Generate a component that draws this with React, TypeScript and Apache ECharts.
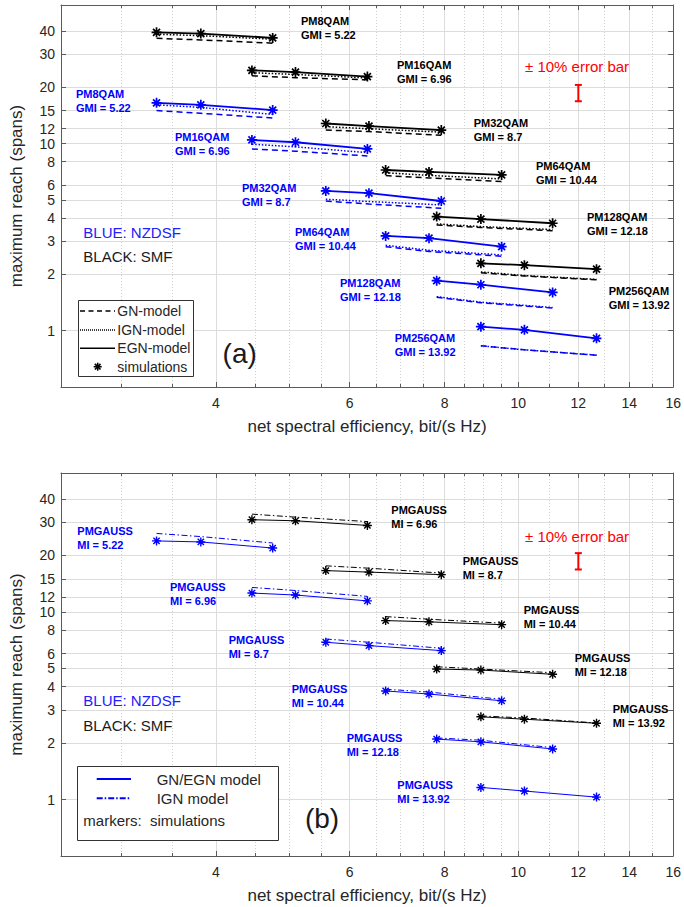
import React, { useEffect, useRef } from 'react';
import * as echarts from 'echarts';

// ---------- axes ----------
const X_RANGE = [2.5, 16];
const Y_RANGE = [0.5, 55];
const X_MAJOR = [4, 6, 8, 10, 12, 14, 16];
const X_MINOR = [3, 3.5, 4.5, 5, 5.5, 6.5, 7, 7.5, 8.5, 9, 9.5, 11, 13, 15];
const Y_MAJOR = [1, 2, 3, 4, 5, 6, 8, 10, 12, 15, 20, 30, 40];

// ---------- categories ----------
const MOD_QAM = ['PM8QAM', 'PM16QAM', 'PM32QAM', 'PM64QAM', 'PM128QAM', 'PM256QAM'];
const GMI = ['5.22', '6.96', '8.7', '10.44', '12.18', '13.92'];

// net spectral efficiency of the 3 points of each format
const SE_8 = [3.34, 3.82, 4.75];
const SE_16 = [4.46, 5.09, 6.33];
const SE_32 = [5.58, 6.36, 7.92];
const SE_64 = [6.69, 7.63, 9.51];
const SE_128 = [7.81, 8.93, 11.1];
const SE_256 = [8.93, 10.19, 12.68];
const SE = [SE_8, SE_16, SE_32, SE_64, SE_128, SE_256];

// ---------- panel (a) : QAM ----------
const SMF_SIM_A = [[39.3, 38.7, 36.7], [24.6, 24.1, 22.8], [12.8, 12.4, 11.8], [7.22, 7.05, 6.8], [4.07, 3.95, 3.75], [2.29, 2.24, 2.13]];
const SMF_GN_A = [[36.5, 35.8, 34.4], [23.0, 22.5, 21.9], [11.8, 11.6, 11.07], [6.74, 6.55, 6.26], [3.67, 3.56, 3.42], [2.04, 1.96, 1.87]];
const SMF_IGN_A = [[38.4, 37.7, 36.1], [23.9, 23.4, 22.4], [12.3, 12.0, 11.5], [6.98, 6.76, 6.47], [3.72, 3.6, 3.47], [2.06, 1.97, 1.88]];
const NZ_SIM_A = [[16.5, 16.1, 15.1], [10.45, 10.16, 9.36], [5.58, 5.43, 4.93], [3.21, 3.12, 2.81], [1.85, 1.76, 1.6], [1.05, 1.01, 0.91]];
const NZ_GN_A = [[15.0, 14.5, 13.7], [9.36, 9.1, 8.58], [4.93, 4.75, 4.51], [2.81, 2.65, 2.5], [1.51, 1.41, 1.32], [0.83, 0.79, 0.74]];
const NZ_IGN_A = [[16.1, 15.6, 14.3], [9.92, 9.6, 8.94], [5.04, 4.9, 4.7], [2.86, 2.69, 2.54], [1.52, 1.42, 1.33], [0.83, 0.79, 0.74]];

// ---------- panel (b) : Gaussian ----------
const SMF_SIM_B = [null, [31.0, 30.6, 28.9], [16.6, 16.3, 15.8], [8.99, 8.85, 8.55], [4.96, 4.9, 4.65], [2.76, 2.68, 2.55]];
const SMF_IGN_B = [null, [33.2, 32.0, 30.3], [17.6, 17.1, 16.1], [9.44, 9.14, 8.71], [5.1, 4.96, 4.74], [2.79, 2.72, 2.56]];
const NZ_SIM_B = [[23.9, 23.6, 21.9], [12.6, 12.3, 11.45], [6.89, 6.61, 6.22], [3.79, 3.65, 3.36], [2.1, 2.03, 1.86], [1.16, 1.11, 1.03]];
const NZ_IGN_B = [[26.2, 25.2, 23.3], [13.5, 13.0, 12.1], [7.17, 6.89, 6.4], [3.87, 3.74, 3.42], [2.13, 2.07, 1.89], null];

// error bar annotation
const ERR_POINT = [12, 18.7];
const ERR_FRAC = 0.1;

// ---------- layout ----------
const FONT = 'Liberation Sans, Arial, Helvetica, sans-serif';
const BLACK = '#000000';
const BLUE = '#0000ff';
const RED = '#ff0000';
const TXT = '#262626';
const BOX = '#5a5a5a';
const STAR = 'path://M0 5L10 5M5 0L5 10M1.5 1.5L8.5 8.5M1.5 8.5L8.5 1.5';

const LBL_A_SMF: number[][] = [[301, 14], [397, 58], [473.7, 116], [536, 159], [587, 210], [608.7, 284]];
const LBL_A_NZ: number[][] = [[76, 87], [175, 130], [242, 180.5], [295, 225], [340, 276], [394.7, 330.5]];
const LBL_B_SMF: (number[] | null)[] = [null, [391.3, 502.5], [462.7, 554], [523.7, 602.5], [574.7, 651], [612.7, 701.5]];
const LBL_B_NZ: number[][] = [[77.3, 524], [170, 579.5], [228.7, 633], [291.7, 682], [346.7, 730.5], [397.3, 778]];

function pts(xs: number[], ys: number[]) {
  return xs.map((x, i) => [x, ys[i]]);
}

function buildAxes(g: number) {
  const fmt = (v: number) => String(+Number(v).toPrecision(4));
  const xBase = { gridIndex: g, type: 'log', logBase: 10, min: X_RANGE[0], max: X_RANGE[1] };
  const yBase = { gridIndex: g, type: 'log', logBase: 10, min: Y_RANGE[0], max: Y_RANGE[1] };
  const xAxes = [
    {
      ...xBase, position: 'bottom',
      axisLine: { show: true, onZero: false, lineStyle: { color: BOX, width: 1 } },
      axisTick: { show: true, inside: true, length: 5, customValues: X_MAJOR, lineStyle: { color: BOX } },
      axisLabel: { show: true, customValues: X_MAJOR, fontSize: 14, lineHeight: 14, color: TXT, margin: 9, fontFamily: FONT, formatter: fmt },
      splitLine: { show: true, lineStyle: { color: '#dcdcdc', width: 1 } },
      name: 'net spectral efficiency, bit/(s Hz)', nameLocation: 'middle', nameGap: 31,
      nameTextStyle: { fontSize: 17, color: TXT, fontFamily: FONT },
    },
    {
      ...xBase, position: 'bottom',
      axisLine: { show: false },
      axisTick: { show: true, inside: true, length: 3, customValues: X_MINOR, lineStyle: { color: BOX } },
      axisLabel: { show: false },
      splitLine: { show: true, lineStyle: { color: '#cfcfcf', width: 1, type: [1, 2] } },
    },
    {
      ...xBase, position: 'top',
      axisLine: { show: true, onZero: false, lineStyle: { color: BOX, width: 1 } },
      axisTick: { show: true, inside: true, length: 5, customValues: X_MAJOR, lineStyle: { color: BOX } },
      axisLabel: { show: false },
      splitLine: { show: false },
    },
    {
      ...xBase, position: 'top',
      axisLine: { show: false },
      axisTick: { show: true, inside: true, length: 3, customValues: X_MINOR, lineStyle: { color: BOX } },
      axisLabel: { show: false },
      splitLine: { show: false },
    },
  ];
  const yAxes = [
    {
      ...yBase, position: 'left',
      axisLine: { show: true, onZero: false, lineStyle: { color: BOX, width: 1 } },
      axisTick: { show: true, inside: true, length: 5, customValues: Y_MAJOR, lineStyle: { color: BOX } },
      axisLabel: { show: true, customValues: Y_MAJOR, fontSize: 14, lineHeight: 14, color: TXT, margin: 6, fontFamily: FONT, formatter: fmt },
      splitLine: { show: true, lineStyle: { color: '#dcdcdc', width: 1 } },
      name: 'maximum reach (spans)', nameLocation: 'middle', nameGap: 36,
      nameTextStyle: { fontSize: 17, color: TXT, fontFamily: FONT },
    },
    {
      ...yBase, position: 'right',
      axisLine: { show: true, onZero: false, lineStyle: { color: BOX, width: 1 } },
      axisTick: { show: true, inside: true, length: 5, customValues: Y_MAJOR, lineStyle: { color: BOX } },
      axisLabel: { show: false },
      splitLine: { show: false },
    },
  ];
  return { xAxes, yAxes };
}

function line(g: number, data: number[][], color: string, width: number, type: any, sym?: number, symW?: number) {
  return {
    type: 'line',
    xAxisIndex: g * 4,
    yAxisIndex: g * 2,
    data,
    silent: true,
    lineStyle: { color, width, type },
    showSymbol: !!sym,
    symbol: sym ? STAR : 'none',
    symbolSize: sym || 0,
    itemStyle: { color, borderColor: color, borderWidth: symW || 1 },
    emphasis: { disabled: true },
    z: sym ? 4 : 3,
  };
}

function errorBar(g: number) {
  return {
    type: 'custom',
    xAxisIndex: g * 4,
    yAxisIndex: g * 2,
    data: [ERR_POINT],
    silent: true,
    z: 5,
    renderItem: (_p: any, api: any) => {
      const x = api.value(0);
      const y = api.value(1);
      const lo = api.coord([x, y * (1 - ERR_FRAC)]);
      const hi = api.coord([x, y * (1 + ERR_FRAC)]);
      const cap = 3.5;
      const st = { stroke: RED, lineWidth: 2 };
      return {
        type: 'group',
        children: [
          { type: 'line', shape: { x1: lo[0], y1: lo[1], x2: hi[0], y2: hi[1] }, style: st },
          { type: 'line', shape: { x1: lo[0] - cap, y1: lo[1], x2: lo[0] + cap, y2: lo[1] }, style: st },
          { type: 'line', shape: { x1: hi[0] - cap, y1: hi[1], x2: hi[0] + cap, y2: hi[1] }, style: st },
        ],
      };
    },
  };
}

function txt(x: number, y: number, text: string, opt: any = {}) {
  return {
    type: 'text',
    x,
    y,
    z: 100,
    silent: true,
    style: {
      text,
      fill: opt.fill || BLACK,
      fontSize: opt.fontSize || 11,
      fontWeight: opt.fontWeight || 'normal',
      fontFamily: FONT,
      lineHeight: opt.lineHeight || 14,
      align: opt.align || 'left',
      verticalAlign: opt.verticalAlign || 'top',
    },
  };
}

function gline(x1: number, y1: number, x2: number, y2: number, stroke: string, lineWidth: number, lineDash?: number[]) {
  return {
    type: 'line',
    z: 101,
    silent: true,
    shape: { x1, y1, x2, y2 },
    style: { stroke, lineWidth, lineDash: lineDash || null },
  };
}

function star(cx: number, cy: number, r: number, color: string, w: number) {
  const d = r * 0.707;
  return {
    type: 'group',
    z: 101,
    children: [
      gline(cx - r, cy, cx + r, cy, color, w),
      gline(cx, cy - r, cx, cy + r, color, w),
      gline(cx - d, cy - d, cx + d, cy + d, color, w),
      gline(cx - d, cy + d, cx + d, cy - d, color, w),
    ],
  };
}

function buildOption() {
  const a = buildAxes(0);
  const b = buildAxes(1);
  const series: any[] = [];

  // panel (a)
  const fibersA = [
    { sim: SMF_SIM_A, gn: SMF_GN_A, ign: SMF_IGN_A, color: BLACK },
    { sim: NZ_SIM_A, gn: NZ_GN_A, ign: NZ_IGN_A, color: BLUE },
  ];
  fibersA.forEach((f) => {
    SE.forEach((xs, i) => {
      series.push(line(0, pts(xs, f.gn[i]), f.color, 1.5, [6, 4]));
      series.push(line(0, pts(xs, f.ign[i]), f.color, 1.5, [1.5, 1.8]));
      series.push(line(0, pts(xs, f.sim[i]), f.color, 1.8, 'solid', 10, 1.7));
    });
  });
  series.push(errorBar(0));

  // panel (b)
  const fibersB = [
    { sim: SMF_SIM_B, ign: SMF_IGN_B, color: BLACK },
    { sim: NZ_SIM_B, ign: NZ_IGN_B, color: BLUE },
  ];
  fibersB.forEach((f) => {
    SE.forEach((xs, i) => {
      const ign = f.ign[i];
      const sim = f.sim[i];
      if (ign) series.push(line(1, pts(xs, ign), f.color, 1, [6, 2.5, 1.5, 2.5]));
      if (sim) series.push(line(1, pts(xs, sim), f.color, 1, 'solid', 9, 1.4));
    });
  });
  series.push(errorBar(1));

  const graphic: any[] = [];
  // data labels (a)
  LBL_A_SMF.forEach((p, i) => graphic.push(txt(p[0], p[1], MOD_QAM[i] + '\nGMI = ' + GMI[i], { fontWeight: 'bold', fill: BLACK })));
  LBL_A_NZ.forEach((p, i) => graphic.push(txt(p[0], p[1], MOD_QAM[i] + '\nGMI = ' + GMI[i], { fontWeight: 'bold', fill: BLUE })));
  // data labels (b)
  LBL_B_SMF.forEach((p, i) => {
    if (p) graphic.push(txt(p[0], p[1], 'PMGAUSS\nMI = ' + GMI[i], { fontWeight: 'bold', fill: BLACK }));
  });
  LBL_B_NZ.forEach((p, i) => graphic.push(txt(p[0], p[1], 'PMGAUSS\nMI = ' + GMI[i], { fontWeight: 'bold', fill: BLUE })));

  // error bar texts
  graphic.push(txt(525, 66.7, '\u00b1 10% error bar', { fontSize: 15, fill: RED, verticalAlign: 'middle' }));
  graphic.push(txt(525, 536.7, '\u00b1 10% error bar', { fontSize: 15, fill: RED, verticalAlign: 'middle' }));

  // fiber key texts
  graphic.push(txt(83.3, 232.7, 'BLUE: NZDSF', { fontSize: 15, fill: '#2020ff', verticalAlign: 'middle' }));
  graphic.push(txt(83.3, 256.7, 'BLACK: SMF', { fontSize: 15, fill: '#1a1a1a', verticalAlign: 'middle' }));
  graphic.push(txt(83.3, 700.7, 'BLUE: NZDSF', { fontSize: 15, fill: '#2020ff', verticalAlign: 'middle' }));
  graphic.push(txt(83.3, 725, 'BLACK: SMF', { fontSize: 15, fill: '#1a1a1a', verticalAlign: 'middle' }));

  // panel tags
  graphic.push(txt(239.7, 353, '(a)', { fontSize: 28, fill: '#1a1a1a', align: 'center', verticalAlign: 'middle' }));
  graphic.push(txt(322, 818, '(b)', { fontSize: 28, fill: '#1a1a1a', align: 'center', verticalAlign: 'middle' }));

  // legend (a)
  graphic.push({
    type: 'rect', z: 99, silent: true,
    shape: { x: 78.5, y: 300.5, width: 115, height: 76 },
    style: { fill: '#ffffff', stroke: '#333333', lineWidth: 1 },
  });
  const legA = [
    { t: 'GN-model', y: 311, dash: [5, 3.5] },
    { t: 'IGN-model', y: 330, dash: [1, 1] },
    { t: 'EGN-model', y: 348.3, dash: null },
  ];
  legA.forEach((l) => {
    graphic.push(gline(80, l.y, 115, l.y, BLACK, 1.5, l.dash || undefined));
    graphic.push(txt(117.3, l.y, l.t, { fontSize: 14, fill: TXT, verticalAlign: 'middle' }));
  });
  graphic.push(star(97.7, 366.7, 4, BLACK, 1.6));
  graphic.push(txt(117.3, 366.7, 'simulations', { fontSize: 14, fill: TXT, verticalAlign: 'middle' }));

  // legend (b)
  graphic.push({
    type: 'rect', z: 99, silent: true,
    shape: { x: 77.5, y: 766.5, width: 201, height: 74 },
    style: { fill: '#ffffff', stroke: '#333333', lineWidth: 1 },
  });
  graphic.push(gline(96.7, 779, 131, 779, BLUE, 2));
  graphic.push(txt(156.7, 779, 'GN/EGN model', { fontSize: 15, fill: TXT, verticalAlign: 'middle' }));
  graphic.push(gline(96.7, 798.3, 131, 798.3, BLUE, 2, [6, 2, 1.5, 2]));
  graphic.push(txt(156.7, 798.3, 'IGN model', { fontSize: 15, fill: TXT, verticalAlign: 'middle' }));
  graphic.push(txt(83.3, 820, 'markers:  simulations', { fontSize: 15, fill: TXT, verticalAlign: 'middle' }));

  return {
    animation: false,
    backgroundColor: '#ffffff',
    textStyle: { fontFamily: FONT },
    grid: [
      { left: 61, top: 5, width: 615, height: 382, containLabel: false },
      { left: 61, top: 473, width: 615, height: 383, containLabel: false },
    ],
    xAxis: [...a.xAxes, ...b.xAxes],
    yAxis: [...a.yAxes, ...b.yAxes],
    series,
    graphic,
  };
}

export default function App() {
  const ref = useRef<HTMLDivElement>(null);
  useEffect(() => {
    if (!ref.current) return;
    const chart = echarts.init(ref.current, undefined, { renderer: 'svg' });
    chart.setOption(buildOption() as any);
    return () => chart.dispose();
  }, []);
  return (
    <div
      ref={ref}
      style={{ position: 'fixed', left: 0, top: 0, width: 684, height: 907, background: '#ffffff' }}
    />
  );
}
